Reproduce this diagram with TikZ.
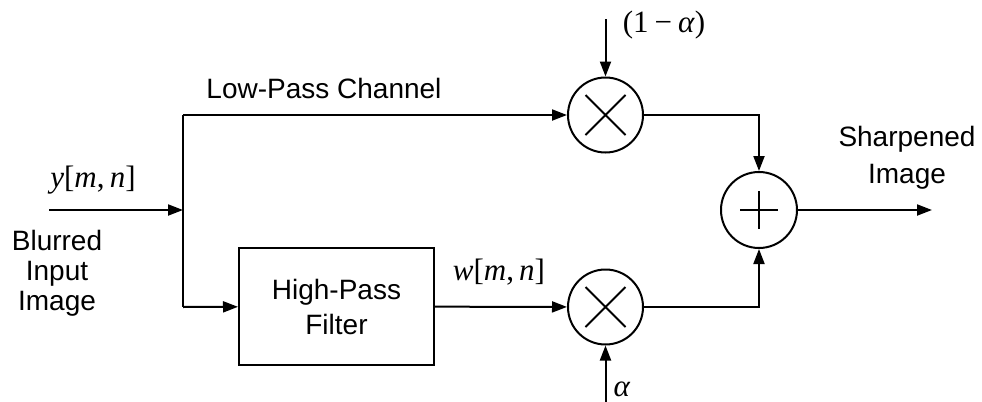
\documentclass[tikz,border=0pt]{standalone}
\usepackage{fontspec}
\setmainfont{Liberation Sans}
\newfontfamily\mathserif{Liberation Serif}
\usetikzlibrary{arrows.meta,calc}
\tikzset{
  wire/.style={line width=1pt},
  arr/.style={wire,-{Triangle[length=7.5pt,width=5.5pt]}},
  circ/.style={draw,circle,line width=1pt,inner sep=0pt,minimum size=37.5pt},
  blk/.style={draw,rectangle,line width=1pt,minimum width=97.5pt,minimum height=58.5pt,align=center,font=\fontsize{14}{17.5}\selectfont},
  lbl/.style={inner sep=0pt,font=\fontsize{14}{15}\selectfont,align=center},
  mlbl/.style={inner sep=0pt,font=\fontsize{15.5}{16}\selectfont\mathserif}
}
\begin{document}
\begin{tikzpicture}[x=0.5pt,y=-0.5pt]
\useasboundingbox (0,0) rectangle (982,402);
% nodes
\coordinate (in) at (49,210);
\coordinate (j) at (183,210);
\coordinate (jt) at (183,115);
\coordinate (jb) at (183,307);
\node[blk] (hpf) at (336.5,306.5) {High-Pass\\Filter};
\node[circ] (m1) at (605.5,115) {};
\node[circ] (m2) at (605.5,307) {};
\node[circ,minimum size=38pt] (add) at (759,210) {};
\coordinate (a1) at (605.5,19);
\coordinate (a2) at (605.5,403);
\coordinate (out) at (932,210);
% symbols
\draw[wire] ($(m1)+(-20,-20)$) -- ($(m1)+(20,20)$) ($(m1)+(-20,20)$) -- ($(m1)+(20,-20)$);
\draw[wire] ($(m2)+(-20,-20)$) -- ($(m2)+(20,20)$) ($(m2)+(-20,20)$) -- ($(m2)+(20,-20)$);
\draw[wire] ($(add)+(-19,0)$) -- ($(add)+(19,0)$) ($(add)+(0,-19)$) -- ($(add)+(0,19)$);
% connectors
\draw[arr] (in) -- (j);
\draw[wire] (jt) -- (jb);
\draw[arr] (jt) -- (m1);
\draw[arr] (jb) -- (hpf);
\draw[arr] (hpf) -- (m2);
\draw[arr] (m1.east) -| (add.north);
\draw[arr] (m2.east) -| (add.south);
\draw[arr] (add) -- (out);
\draw[arr] (a1) -- (m1);
\draw[arr] (a2) -- (m2);
% labels
\node[lbl] (lpc) at (324,88) {Low-Pass Channel};
\node[mlbl] (ylbl) at (93,180) {\textit{y}[\textit{m},\,\textit{n}]};
\node[lbl] (blur) at (57,273) {Blurred\\Input\\Image};
\node[mlbl] (wlbl) at (499,272) {\textit{w}[\textit{m},\,\textit{n}]};
\node[mlbl] (alab) at (664,25) {(1\kern3pt−\kern3pt\textit{α})};
\node[mlbl] (alpha) at (622,389) {\textit{α}};
\node[lbl,font=\fontsize{14}{18.5}\selectfont] (sharp) at (907,158) {Sharpened\\Image};
\end{tikzpicture}
\end{document}
